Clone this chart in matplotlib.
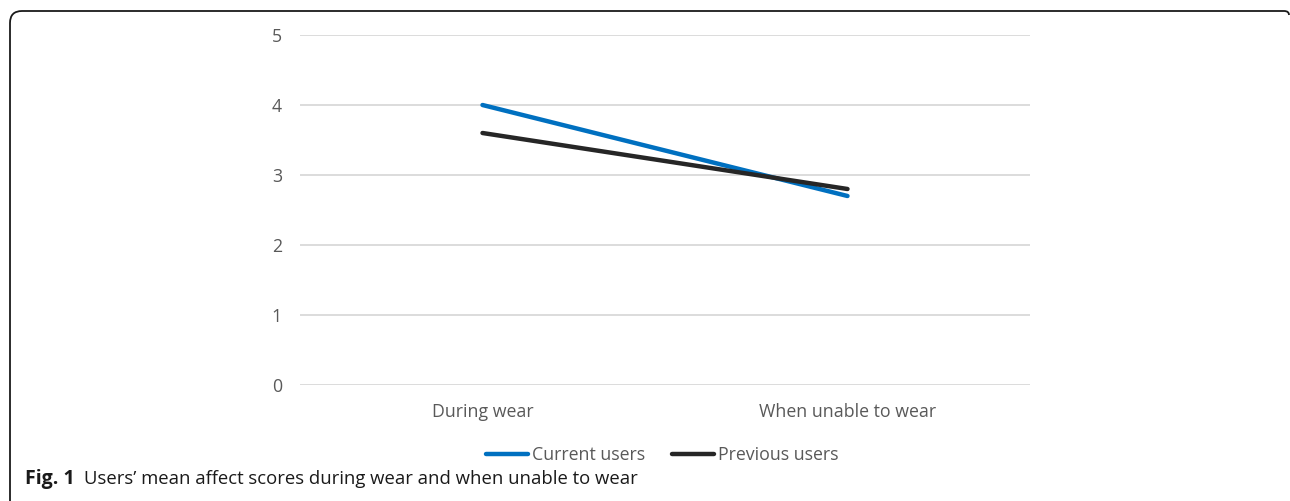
import numpy as np
import matplotlib.pyplot as plt
from matplotlib.path import Path
from matplotlib.patches import PathPatch

plt.rcParams['font.family'] = ['Open Sans', 'DejaVu Sans']

categories = ['During wear', 'When unable to wear']
current_users = [4.0, 2.7]
previous_users = [3.6, 2.8]
y_ticks = [0, 1, 2, 3, 4, 5]

W, H = 1290, 501
fig = plt.figure(figsize=(W / 100, H / 100), dpi=100)

# axes placed in pixel terms
left, right, top, bottom = 300, 1030, 35, 385
ax = fig.add_axes([left / W, 1 - bottom / H, (right - left) / W, (bottom - top) / H])

x = np.arange(len(categories))
ax.plot(x, current_users, color='#0070C0', lw=3.2, solid_capstyle='round', label='Current users')
ax.plot(x, previous_users, color='#262626', lw=3.2, solid_capstyle='round', label='Previous users')

ax.set_xlim(-0.5, len(categories) - 0.5)
ax.set_ylim(0, 5)
ax.set_yticks(y_ticks)
ax.set_xticks(x)
ax.set_xticklabels(categories)
ax.yaxis.grid(True, color='#d9d9d9', lw=1.3)
ax.set_axisbelow(True)
for s in ax.spines.values():
    s.set_visible(False)
ax.tick_params(length=0, labelsize=12.8, labelcolor='#595959')
ax.tick_params(axis='y', pad=13)
ax.tick_params(axis='x', pad=13)

fig.legend(loc='center', bbox_to_anchor=(662 / W, 1 - 455 / H), ncol=2, frameon=False,
           fontsize=12.8, handlelength=2.4, handletextpad=0.2, columnspacing=1.5,
           labelcolor='#595959')

# caption
fig.text(25 / W, 1 - 479 / H, 'Fig. 1', fontsize=14, fontweight='bold', color='#1a1a1a',
         va='center', ha='left')
fig.text(84 / W, 1 - 479 / H, 'Users\u2019 mean affect scores during wear and when unable to wear',
         fontsize=13.3, color='#1a1a1a', va='center', ha='left')

# rounded frame, open at the bottom
r = 12
verts = [(10, H), (10, 11 + r), (10, 11), (10 + r, 11), (1284, 11), (1289, 11), (1289, 15)]
codes = [Path.MOVETO, Path.LINETO, Path.CURVE3, Path.CURVE3, Path.LINETO, Path.CURVE3, Path.CURVE3]
verts = [(vx / W, 1 - vy / H) for vx, vy in verts]
frame = PathPatch(Path(verts, codes), transform=fig.transFigure, fill=False,
                  edgecolor='#1a1a1a', lw=1.3)
fig.add_artist(frame)

fig.savefig('out.png', dpi=100)
